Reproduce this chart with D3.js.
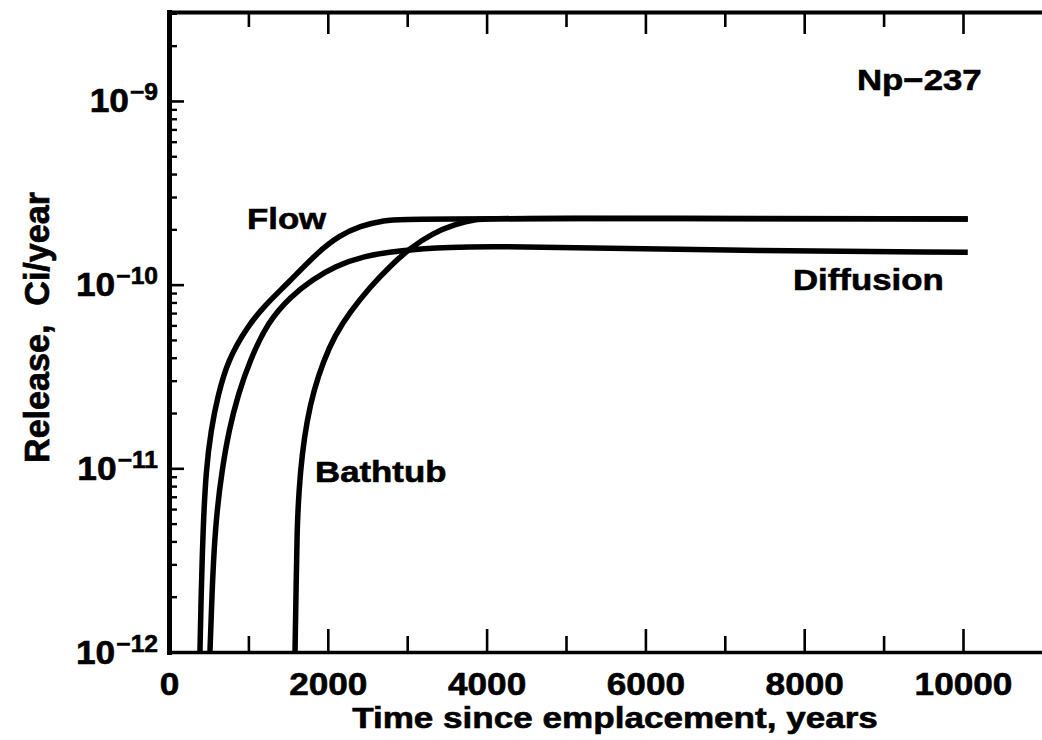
<!DOCTYPE html>
<html>
<head>
<meta charset="utf-8">
<script src="https://cdn.jsdelivr.net/npm/d3@7"></script>
<style>
  html, body { margin: 0; padding: 0; background: #fff; }
  svg { display: block; }
  text { font-family: "Liberation Sans", Arial, Helvetica, sans-serif; font-weight: bold; fill: #000; stroke: #000; stroke-width: 0.6px; }
</style>
</head>
<body>
<div class="chart"></div>
<script>
const width = 1042;
const height = 740;
const plot = { left: 169, right: 1042.4, top: 12, bottom: 652 };

// years since emplacement / release in Ci per year
const flowYears = [390, 403, 428, 466, 529, 617, 743, 982, 1209, 1499, 1877, 2154, 2406, 2695, 3035, 10060];
const flowRelease = [1.0e-12, 1.92e-12, 4.62e-12, 9.8e-12, 1.62e-11, 2.51e-11, 3.89e-11, 5.87e-11, 7.74e-11, 1.02e-10, 1.51e-10, 1.86e-10, 2.08e-10, 2.24e-10, 2.30e-10, 2.28e-10];

const diffusionYears = [516, 542, 567, 605, 668, 756, 869, 1020, 1247, 1524, 1814, 2091, 2443, 2909, 3539, 4169, 6688, 10060];
const diffusionRelease = [1.0e-12, 2.1e-12, 3.59e-12, 5.93e-12, 9.8e-12, 1.62e-11, 2.51e-11, 3.89e-11, 6.27e-11, 8.57e-11, 1.07e-10, 1.26e-10, 1.43e-10, 1.54e-10, 1.60e-10, 1.62e-10, 1.54e-10, 1.50e-10];

const bathtubYears = [1587, 1600, 1612, 1637, 1675, 1738, 1826, 1940, 2091, 2280, 2531, 2783, 3035, 3325, 3602, 3854, 4169, 10060];
const bathtubRelease = [1.0e-12, 2.1e-12, 4.62e-12, 7.62e-12, 1.18e-11, 1.83e-11, 2.67e-11, 3.79e-11, 5.32e-11, 7.1e-11, 9.71e-11, 1.26e-10, 1.58e-10, 1.91e-10, 2.13e-10, 2.27e-10, 2.31e-10, 2.28e-10];

const seriesNames = ["Flow", "Diffusion", "Bathtub"];
const nuclide = "Np\u2212237";

const xMajor = [0, 2000, 4000, 6000, 8000, 10000];
const xMinor = [1000, 3000, 5000, 7000, 9000];
const xTickLabels = ["0", "2000", "4000", "6000", "8000", "10000"];
const yMajor = [1e-12, 1e-11, 1e-10, 1e-9];
const yExponents = ["\u221212", "\u221211", "\u221210", "\u22129"];
const yMinor = [
  2e-12, 3e-12, 4e-12, 5e-12, 6e-12, 7e-12, 8e-12, 9e-12,
  2e-11, 3e-11, 4e-11, 5e-11, 6e-11, 7e-11, 8e-11, 9e-11,
  2e-10, 3e-10, 4e-10, 5e-10, 6e-10, 7e-10, 8e-10, 9e-10,
  2e-9, 3e-9
];

const series = [
  { name: seriesNames[0], years: flowYears, release: flowRelease },
  { name: seriesNames[1], years: diffusionYears, release: diffusionRelease },
  { name: seriesNames[2], years: bathtubYears, release: bathtubRelease }
];

const x = d3.scaleLinear().domain([0, 11000]).range([plot.left, plot.right]);
const y = d3.scaleLog().domain([1e-12, 3.05e-9]).range([plot.bottom, plot.top]);

const svg = d3.select("div.chart")
  .append("svg")
  .attr("width", width)
  .attr("height", height)
  .attr("viewBox", [0, 0, width, height]);

function styleAxis(g, domainWidth) {
  g.attr("font-size", null).attr("font-family", null);
  g.select(".domain").attr("stroke-width", domainWidth).attr("stroke-linecap", "square");
  g.selectAll(".tick line").attr("stroke-width", 2.6);
}

// bottom axis, ticks point inward
svg.append("g")
  .attr("class", "xAxis")
  .attr("transform", `translate(0,${plot.bottom})`)
  .call(d3.axisBottom(x).tickValues(xMajor).tickFormat((d, i) => xTickLabels[i])
    .tickSize(-23).tickSizeOuter(0).tickPadding(20))
  .call(g => styleAxis(g, 3.6))
  .call(g => g.selectAll(".tick text")
    .attr("font-size", 32)
    .attr("transform", "scale(1.1,1)"));

svg.append("g")
  .attr("class", "xAxisMinor")
  .attr("transform", `translate(0,${plot.bottom})`)
  .call(d3.axisBottom(x).tickValues(xMinor).tickFormat("").tickSize(-16).tickSizeOuter(0))
  .call(g => g.select(".domain").remove())
  .call(g => g.selectAll(".tick line").attr("stroke-width", 2.6));

// top axis
svg.append("g")
  .attr("class", "xAxisTop")
  .attr("transform", `translate(0,${plot.top})`)
  .call(d3.axisTop(x).tickValues(xMajor).tickFormat("").tickSize(-22).tickSizeOuter(0))
  .call(g => styleAxis(g, 4));

svg.append("g")
  .attr("class", "xAxisTopMinor")
  .attr("transform", `translate(0,${plot.top})`)
  .call(d3.axisTop(x).tickValues(xMinor).tickFormat("").tickSize(-15).tickSizeOuter(0))
  .call(g => g.select(".domain").remove())
  .call(g => g.selectAll(".tick line").attr("stroke-width", 2.6));

// left log axis with 10^n labels
svg.append("g")
  .attr("class", "yAxis")
  .attr("transform", `translate(${plot.left},0)`)
  .call(d3.axisLeft(y).tickValues(yMajor).tickFormat("").tickSize(-15).tickSizeOuter(0))
  .call(g => styleAxis(g, 5))
  .call(g => g.selectAll(".tick text")
    .attr("x", 0)
    .attr("y", 11)
    .attr("dy", null)
    .attr("text-anchor", "end")
    .attr("transform", "translate(-11,0) scale(1.07,1)")
    .each(function(d, i) {
      const t = d3.select(this);
      t.append("tspan").attr("font-size", 33).text("10");
      t.append("tspan").attr("font-size", 23).attr("dx", 1).attr("dy", -12).text(yExponents[i]);
    }));

svg.append("g")
  .attr("class", "yAxisMinor")
  .attr("transform", `translate(${plot.left},0)`)
  .call(d3.axisLeft(y).tickValues(yMinor).tickFormat("").tickSize(-8).tickSizeOuter(0))
  .call(g => g.select(".domain").remove())
  .call(g => g.selectAll(".tick line").attr("stroke-width", 2.4));

// curves
const line = d3.line()
  .x(d => x(d[0]))
  .y(d => y(d[1]))
  .curve(d3.curveBasis);

svg.append("g")
  .attr("class", "curves")
  .selectAll("path")
  .data(series)
  .join("path")
  .attr("fill", "none")
  .attr("stroke", "#000")
  .attr("stroke-width", 5.5)
  .attr("stroke-linejoin", "round")
  .attr("d", s => line(s.years.map((t, i) => [t, s.release[i]])));

// curve labels, anchored in data units
const labelAnchors = [
  { text: seriesNames[0], t: 982, v: 2.02e-10 },
  { text: seriesNames[1], t: 7859, v: 9.36e-11 },
  { text: seriesNames[2], t: 1839, v: 8.43e-12 },
  { text: nuclide, t: 8665, v: 1.15e-9 }
];

svg.append("g")
  .attr("class", "labels")
  .selectAll("text")
  .data(labelAnchors)
  .join("text")
  .attr("font-size", 30)
  .attr("transform", d => `translate(${x(d.t)},${y(d.v)}) scale(1.16,1)`)
  .text(d => d.text);

// axis titles
svg.append("text")
  .attr("font-size", 30)
  .attr("text-anchor", "middle")
  .attr("transform", "translate(615,728) scale(1.17,1)")
  .text("Time since emplacement, years");

svg.append("text")
  .attr("font-size", 30)
  .attr("text-anchor", "middle")
  .attr("xml:space", "preserve")
  .style("white-space", "pre")
  .attr("transform", "translate(49,327.5) rotate(-90) scale(1.136,1.15)")
  .text("Release,  Ci/year");
</script>
</body>
</html>
